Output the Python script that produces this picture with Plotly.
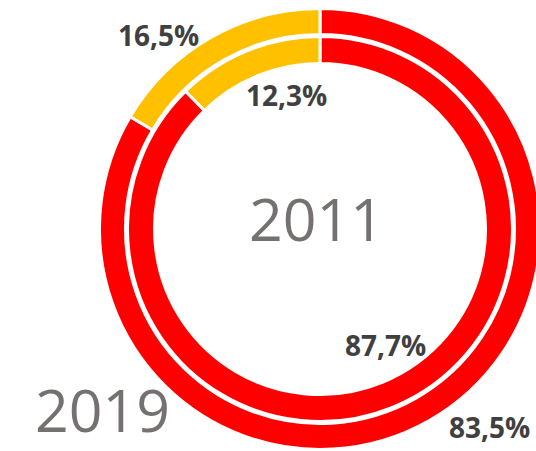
import plotly.graph_objects as go

# Data
categories = ["Rosso", "Giallo"]
values_2019 = [83.5, 16.5]   # outer ring
values_2011 = [87.7, 12.3]   # inner ring
labels_2019 = ["83,5%", "16,5%"]
labels_2011 = ["87,7%", "12,3%"]
colors = ["#FF0000", "#FFC000"]

W, H = 544, 451             # figure slightly wider than the window; ring is cut at right edge
cx, cy = 320, 229           # centre in px (from top)
LW = 3

def dom(r):
    return dict(x=[(cx - r) / W, (cx + r) / W], y=[(H - cy - r) / H, (H - cy + r) / H])

R_out = 220.5
R_in = 192.5

fig = go.Figure()
fig.add_trace(go.Pie(
    labels=categories, values=values_2019, hole=194.5 / R_out,
    sort=False, direction="clockwise", rotation=0,
    marker=dict(colors=colors, line=dict(color="white", width=LW)),
    textinfo="none", hoverinfo="skip", showlegend=False,
    domain=dom(R_out),
))
fig.add_trace(go.Pie(
    labels=categories, values=values_2011, hole=165.5 / R_in,
    sort=False, direction="clockwise", rotation=0,
    marker=dict(colors=colors, line=dict(color="white", width=LW)),
    textinfo="none", hoverinfo="skip", showlegend=False,
    domain=dom(R_in),
))

lab_font = dict(family="Open Sans", size=28, color="#404040")
def px(x, y):
    return x / W, (H - y) / H

annos = []
for txt, (x, y) in [
    (labels_2019[1], (158, 35)),
    (labels_2011[1], (286, 95)),
    (labels_2011[0], (385, 345)),
    (labels_2019[0], (489, 427)),
]:
    ax, ay = px(x, y)
    annos.append(dict(text="<b>%s</b>" % txt, x=ax, y=ay, xref="paper", yref="paper",
                      showarrow=False, xanchor="center", yanchor="middle", font=lab_font))

big_font = dict(family="Open Sans", size=59, color="#767171")
ax, ay = px(316, 218)
annos.append(dict(text="2011", x=ax, y=ay, xref="paper", yref="paper", showarrow=False,
                  xanchor="center", yanchor="middle", font=big_font))
ax, _ = px(102, 0)
annos.append(dict(text="2019", x=ax, y=0, xref="paper", yref="paper", showarrow=False,
                  xanchor="center", yanchor="bottom", font=big_font))

fig.update_layout(
    width=W, height=H, margin=dict(l=0, r=0, t=0, b=0),
    paper_bgcolor="white", plot_bgcolor="white",
    annotations=annos,
)
fig.write_html(
    "out.html",
    config={"displayModeBar": False},
    post_script="document.body.style.margin='0';"
                "document.body.style.overflow='hidden';"
                "document.documentElement.style.overflow='hidden';",
)
